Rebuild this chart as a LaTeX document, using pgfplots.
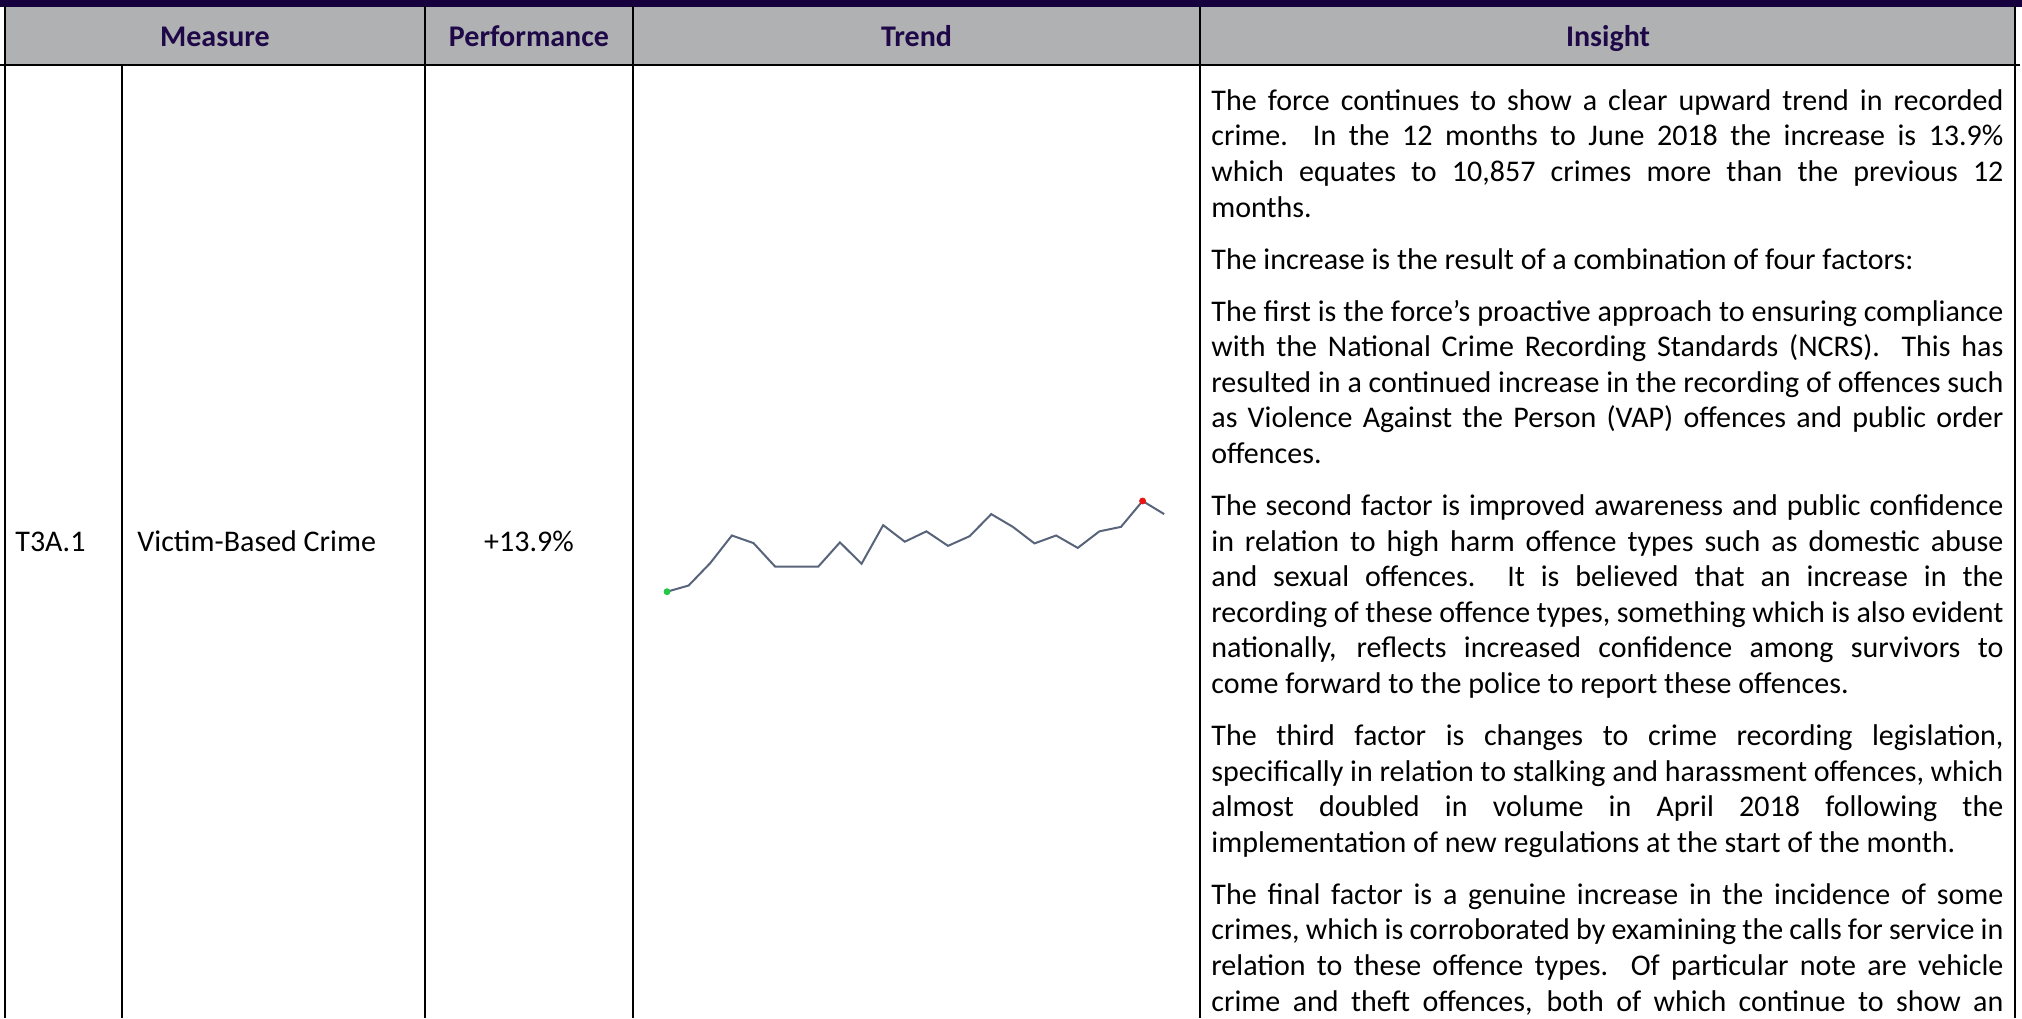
\documentclass[border=0pt]{standalone}
\usepackage{pgfplots}
\pgfplotsset{compat=1.18}
\usepackage{fontspec}
\setmainfont{Carlito}
\definecolor{band}{RGB}{22,0,62}
\definecolor{hdrgray}{RGB}{176,177,179}
\definecolor{hdrtext}{RGB}{30,8,72}
\definecolor{spark}{RGB}{88,100,122}
\definecolor{sgreen}{RGB}{34,200,70}
\definecolor{sred}{RGB}{235,20,20}
\newcommand{\bodyfont}{\fontsize{15}{17.8}\selectfont}
\newcommand{\J}[1]{\makebox[396pt][s]{#1}}
\newcommand{\Lf}[1]{\makebox[396pt][l]{#1}}
\begin{document}
\begin{tikzpicture}[x=0.5pt,y=0.5pt]
\path[use as bounding box] (0,0) rectangle (2022,-1018);
% header band
\fill[band] (0,0) rectangle (2022,-7);
\fill[hdrgray] (5,-7) rectangle (2015,-65);
% lines
\draw[line width=1.3pt] (0,-65) -- (2020,-65);
\draw[line width=1.3pt] (5,-6) -- (5,-1018);
\draw[line width=1.3pt] (2015,-6) -- (2015,-1018);
\draw[line width=1.3pt] (122,-65) -- (122,-1018);
\draw[line width=1.3pt] (425,-6) -- (425,-1018);
\draw[line width=1.3pt] (633,-6) -- (633,-1018);
\draw[line width=1.3pt] (1200,-6) -- (1200,-1018);
% header texts
\begin{scope}[every node/.style={inner sep=0pt, font=\bodyfont\bfseries, text=hdrtext, anchor=base}]
\node at (215,-46) {Measure};
\node at (529,-46) {Performance};
\node at (916.5,-46) {Trend};
\node at (1608,-46) {Insight};
\end{scope}
% row texts
\begin{scope}[every node/.style={inner sep=0pt, font=\bodyfont}]
\node[anchor=base west] at (15,-551) {T3A.1};
\node[anchor=base west] at (137,-551) {Victim-Based Crime};
\node[anchor=base] at (529,-551) {+13.9\%};
\end{scope}
% insight text
\node[anchor=north west, inner sep=0pt, align=left, font=\bodyfont] at (1211,-85) {%
\J{\strut The force continues to show a clear upward trend in recorded}\\
\J{crime.\ \ In the 12 months to June 2018 the increase is 13.9\%}\\
\J{which equates to 10,857 crimes more than the previous 12}\\
\Lf{months.}\\[8.2pt]
\Lf{The increase is the result of a combination of four factors:}\\[8.2pt]
\J{The first is the force’s proactive approach to ensuring compliance}\\
\J{with the National Crime Recording Standards (NCRS).\ \ This has}\\
\J{resulted in a continued increase in the recording of offences such}\\
\J{as Violence Against the Person (VAP) offences and public order}\\
\Lf{offences.}\\[8.2pt]
\J{The second factor is improved awareness and public confidence}\\
\J{in relation to high harm offence types such as domestic abuse}\\
\J{and sexual offences.\ \ It is believed that an increase in the}\\
\J{recording of these offence types, something which is also evident}\\
\J{nationally, reflects increased confidence among survivors to}\\
\Lf{come forward to the police to report these offences.}\\[8.2pt]
\J{The third factor is changes to crime recording legislation,}\\
\J{specifically in relation to stalking and harassment offences, which}\\
\J{almost doubled in volume in April 2018 following the}\\
\Lf{implementation of new regulations at the start of the month.}\\[8.2pt]
\J{The final factor is a genuine increase in the incidence of some}\\
\J{crimes, which is corroborated by examining the calls for service in}\\
\J{relation to these offence types.\ \ Of particular note are vehicle}\\
\J{crime and theft offences, both of which continue to show an}
};
% sparkline
\coordinate (sp) at (667,-591.7);
\begin{axis}[at={(sp)}, anchor=south west, scale only axis,
  width=248.6pt, height=45.35pt, xmin=1, xmax=24, ymin=47, ymax=310,
  hide axis, clip=false]
\addplot[color=spark, line width=1pt] coordinates {
(1,47) (2,65) (3,130) (4,210) (5,188) (6,120) (7,120) (8,120)
(9,190) (10,128) (11,240) (12,192) (13,222) (14,180) (15,208) (16,272)
(17,235) (18,187) (19,210) (20,174) (21,222) (22,235) (23,310) (24,272)};
\addplot[only marks, mark=*, mark size=1.5pt, color=sgreen] coordinates {(1,47)};
\addplot[only marks, mark=*, mark size=1.5pt, color=sred] coordinates {(23,310)};
\end{axis}
\end{tikzpicture}
\end{document}
